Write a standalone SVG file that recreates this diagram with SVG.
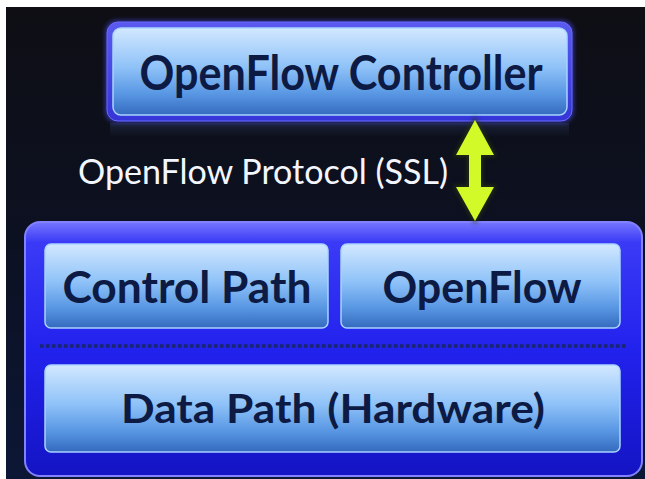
<svg xmlns="http://www.w3.org/2000/svg" width="645" height="479" viewBox="0 0 645 479">
  <defs>
    <linearGradient id="bg" x1="0" y1="0" x2="0" y2="1">
      <stop offset="0" stop-color="#0e0e14"/>
      <stop offset="0.5" stop-color="#0c1122"/>
      <stop offset="1" stop-color="#0c1736"/>
    </linearGradient>
    <linearGradient id="boxFill" x1="0" y1="0" x2="0" y2="1">
      <stop offset="0" stop-color="#d2e8ff"/>
      <stop offset="0.45" stop-color="#8fc2f8"/>
      <stop offset="0.75" stop-color="#5a98e4"/>
      <stop offset="1" stop-color="#346abf"/>
    </linearGradient>
    <linearGradient id="ringFill" x1="0" y1="0" x2="0" y2="1">
      <stop offset="0" stop-color="#5a5af0"/>
      <stop offset="1" stop-color="#3434d8"/>
    </linearGradient>
    <linearGradient id="contFill" x1="0" y1="0" x2="0" y2="1">
      <stop offset="0" stop-color="#7676ff"/>
      <stop offset="0.08" stop-color="#3a3af6"/>
      <stop offset="0.5" stop-color="#2222ee"/>
      <stop offset="1" stop-color="#1414c4"/>
    </linearGradient>
    <linearGradient id="refl" x1="0" y1="0" x2="0" y2="1">
      <stop offset="0" stop-color="#5a78c0" stop-opacity="0.18"/>
      <stop offset="1" stop-color="#5a78c0" stop-opacity="0"/>
    </linearGradient>
    <filter id="glow" x="-10%" y="-10%" width="120%" height="120%">
      <feGaussianBlur stdDeviation="2"/>
    </filter>
  </defs>
  <style>
    .box { fill: url(#boxFill); stroke: #a8d4ff; stroke-width: 1.5; }
    .lbl { font-family: Lato, "Open Sans", "Liberation Sans", sans-serif; font-weight: bold; fill: #0c1a44; text-anchor: middle; }
    .proto { font-family: Lato, "Open Sans", "Liberation Sans", sans-serif; fill: #f4f6ff; }
  </style>

  <rect x="0" y="0" width="645" height="479" fill="#ffffff"/>
  <rect x="6" y="7" width="639" height="472" fill="url(#bg)"/>

  <g id="controller">
    <rect x="110" y="123" width="459" height="14" fill="url(#refl)"/>
    <rect x="105" y="20" width="469" height="103" rx="12" fill="#5050ff" opacity="0.5" filter="url(#glow)"/>
    <rect x="107" y="22" width="465" height="99" rx="11" fill="url(#ringFill)" stroke="#6a6aff" stroke-width="1"/>
    <rect x="113" y="28" width="454" height="87" rx="8" class="box"/>
    <text x="341" y="90" class="lbl" font-size="47" textLength="403" lengthAdjust="spacingAndGlyphs">OpenFlow Controller</text>
  </g>

  <g id="switch">
    <rect x="25" y="222" width="617" height="254" rx="15" fill="url(#contFill)" stroke="#8282ff" stroke-width="2"/>
  </g>

  <g id="control-path">
    <rect x="45" y="244" width="283" height="84" rx="6" class="box"/>
    <text x="187" y="303" class="lbl" font-size="43" textLength="249" lengthAdjust="spacingAndGlyphs">Control Path</text>
  </g>

  <g id="openflow">
    <rect x="341" y="244" width="279" height="84" rx="6" class="box"/>
    <text x="482" y="303" class="lbl" font-size="43" textLength="199" lengthAdjust="spacingAndGlyphs">OpenFlow</text>
  </g>

  <g id="data-path">
    <rect x="45" y="365" width="575" height="87" rx="6" class="box"/>
    <text x="333" y="423" class="lbl" font-size="41" textLength="424" lengthAdjust="spacingAndGlyphs">Data Path (Hardware)</text>
  </g>

  <g id="connectors">
    <line x1="40" y1="346" x2="626" y2="346" stroke="#1a2470" stroke-width="3.5" stroke-dasharray="3.5 2.5"/>
    <path d="M475,120 L494,155 L481,155 L481,187 L494,187 L475,221 L456,187 L469,187 L469,155 L456,155 Z" fill="#3a5010" stroke="#2a3a0a" stroke-width="4" opacity="0.6" filter="url(#glow)"/>
    <path d="M475,120 L494,155 L481,155 L481,187 L494,187 L475,221 L456,187 L469,187 L469,155 L456,155 Z" fill="#d2fa28"/>
    <text x="78" y="184" class="proto" font-size="34" textLength="370" lengthAdjust="spacingAndGlyphs">OpenFlow Protocol (SSL)</text>
  </g>
</svg>
